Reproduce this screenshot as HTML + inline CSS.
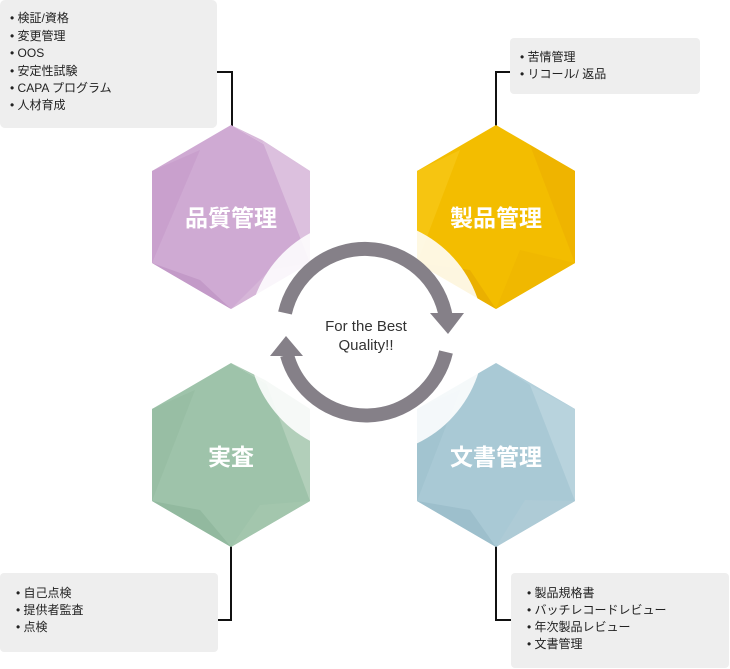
<!DOCTYPE html>
<html><head><meta charset="utf-8"><style>
body{margin:0;background:#fff;}
svg{display:block;font-family:"Liberation Sans","Noto Sans CJK JP",sans-serif;}
</style></head><body>
<svg width="730" height="669" viewBox="0 0 730 669" xmlns="http://www.w3.org/2000/svg">
<rect x="0" y="0" width="217" height="128" rx="5" fill="#eeeeee"/>
<rect x="510" y="38" width="190" height="56" rx="4" fill="#eeeeee"/>
<rect x="0" y="573" width="218" height="79" rx="4" fill="#eeeeee"/>
<rect x="511" y="573" width="218" height="95" rx="4" fill="#eeeeee"/>
<g stroke="#111" stroke-width="2" fill="none">
<polyline points="217,72 232,72 232,128"/>
<polyline points="510,72 496,72 496,128"/>
<polyline points="231,543 231,620 218,620"/>
<polyline points="496,543 496,620 511,620"/>
</g>
<g font-size="12" fill="#222">
<text x="10" y="22">• 検証/資格</text>
<text x="10" y="40">• 変更管理</text>
<text x="10" y="57">• OOS</text>
<text x="10" y="75">• 安定性試験</text>
<text x="10" y="92">• CAPA プログラム</text>
<text x="10" y="109">• 人材育成</text>
<text x="520" y="61">• 苦情管理</text>
<text x="520" y="78">• リコール/ 返品</text>
<text x="16" y="597">•  自己点検</text>
<text x="16" y="614">•  提供者監査</text>
<text x="16" y="631">•  点検</text>
<text x="527" y="597">•  製品規格書</text>
<text x="527" y="614">•  バッチレコードレビュー</text>
<text x="527" y="631">•  年次製品レビュー</text>
<text x="527" y="648">•  文書管理</text>
</g>
<g>
<polygon points="231,125 310,171 310,263 231,309 152,263 152,171" fill="#cfaad3"/>
<polygon points="231,125 310,171 262,140" fill="#d8b9da"/>
<polygon points="262,140 310,171 310,263" fill="#dcc0de"/>
<polygon points="152,171 200,150 152,263" fill="#c9a0cd"/>
<polygon points="152,263 231,309 200,280" fill="#c39ac8"/>
<polygon points="231,309 310,263 270,270" fill="#d6b6d8"/>

<polygon points="496,125 575,171 575,263 496,309 417,263 417,171" fill="#f3bd00"/>
<polygon points="496,125 575,171 530,145" fill="#f5c400"/>
<polygon points="530,145 575,171 575,263" fill="#efb400"/>
<polygon points="417,171 460,150 417,263" fill="#f6c511"/>
<polygon points="417,263 496,309 470,270" fill="#eab000"/>
<polygon points="496,309 575,263 520,250" fill="#f0b800"/>

<polygon points="231,363 310,409 310,501 231,547 152,501 152,409" fill="#9ec3aa"/>
<polygon points="231,363 310,409 265,380" fill="#a8c9b2"/>
<polygon points="265,380 310,409 310,501" fill="#b2cfba"/>
<polygon points="152,409 195,390 152,501" fill="#98bea4"/>
<polygon points="152,501 231,547 200,510" fill="#92b99f"/>
<polygon points="231,547 310,501 260,505" fill="#a3c6ad"/>

<polygon points="496,363 575,409 575,501 496,547 417,501 417,409" fill="#a9c9d5"/>
<polygon points="496,363 575,409 530,385" fill="#b3d0db"/>
<polygon points="530,385 575,409 575,501" fill="#b8d3dd"/>
<polygon points="417,409 460,390 417,501" fill="#a2c4d0"/>
<polygon points="417,501 496,547 470,510" fill="#9dbfcc"/>
<polygon points="496,547 575,501 525,500" fill="#aecbd6"/>
</g>
<g font-size="23" font-weight="bold" fill="#fff" text-anchor="middle">
<text x="231" y="226">品質管理</text>
<text x="496" y="226">製品管理</text>
<text x="231" y="465">実査</text>
<text x="496" y="465">文書管理</text>
</g>
<circle cx="366" cy="337" r="118" fill="#ffffff" fill-opacity="0.88"/>
<g fill="none" stroke="#858088" stroke-width="14">
<path d="M 285 313 A 82 82 0 0 1 446 318"/>
<path d="M 446 352 A 82 82 0 0 1 287 355"/>
</g>
<polygon points="430,313 464,313 448,334" fill="#858088"/>
<polygon points="270,356 303,356 286,336" fill="#858088"/>
<g font-size="15" fill="#333" text-anchor="middle">
<text x="366" y="331">For the Best</text>
<text x="366" y="350">Quality!!</text>
</g>
</svg>
</body></html>
